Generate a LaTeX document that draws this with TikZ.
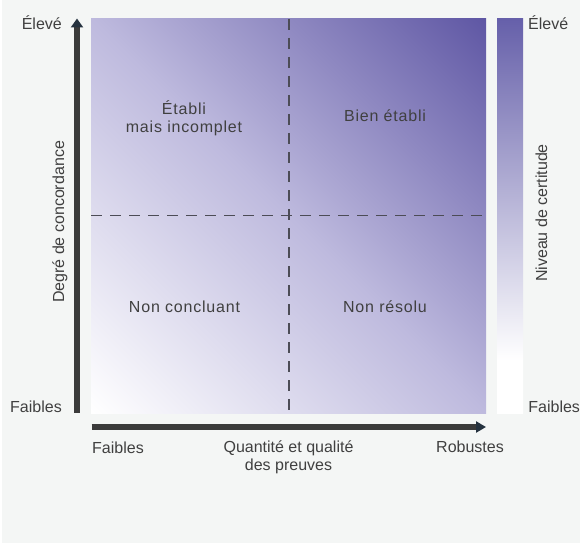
\documentclass[tikz,border=0pt]{standalone}
\usepackage{fontspec}
\setmainfont{Liberation Sans}
\newfontfamily\quadfont[LetterSpace=5]{Liberation Sans}
\usetikzlibrary{arrows.meta}
\definecolor{bg}{HTML}{F4F6F5}
\definecolor{quadDark}{HTML}{5F57A4}
\definecolor{quadMid}{HTML}{BEBADE}
\definecolor{barTop}{HTML}{6660AA}
\definecolor{axiscol}{HTML}{3B3B3B}
\definecolor{tipcol}{HTML}{25323F}
\definecolor{txt}{HTML}{404040}
\definecolor{dashcol}{HTML}{4C4C56}
\pgfdeclarehorizontalshading{quadshade}{100bp}{color(0bp)=(white); color(14.6bp)=(white); color(50bp)=(quadMid); color(85.4bp)=(quadDark); color(100bp)=(quadDark)}
\pgfdeclareverticalshading{barshade}{100bp}{color(0bp)=(white); color(31.7bp)=(white); color(75bp)=(barTop); color(100bp)=(barTop)}
\tikzset{
  lbl/.style={inner sep=0pt, text=txt, font=\fontsize{16bp}{18bp}\selectfont},
  qlbl/.style={inner sep=0pt, text=txt, align=center, font=\quadfont\fontsize{16bp}{18bp}\selectfont},
  divider/.style={draw=dashcol, line width=1.7bp, dash pattern=on 11bp off 8bp},
  axisline/.style={draw=axiscol},
}
\begin{document}
\begin{tikzpicture}[x=1bp, y=-1bp]
\useasboundingbox (0,0) rectangle (580,543);
\fill[bg] (0,0) rectangle (580,543);
\fill[white] (0,0) rectangle (1.7,543);
% main quadrant area
\shade[shading=quadshade, shading angle=45] (91,19) rectangle (486,413);
% certainty bar
\shade[shading=barshade] (497,19) rectangle (523,413);
% dividers
\coordinate (vtop) at (289,19);
\coordinate (vbot) at (289,413);
\coordinate (hleft) at (91,215.5);
\coordinate (hright) at (486,215.5);
\draw[divider] (vtop) -- (vbot);
\draw[divider] (hleft) -- (hright);
% axes
\coordinate (yaxis0) at (77,412.5);
\coordinate (yaxis1) at (77,18.5);
\coordinate (xaxis0) at (91.5,427);
\coordinate (xaxis1) at (486,427);
\draw[axisline, line width=6bp, -{Triangle[length=9bp,width=12bp,color=tipcol,fill=tipcol]}] (yaxis0) -- (yaxis1);
\draw[axisline, line width=5.5bp, -{Triangle[length=10bp,width=11bp,color=tipcol,fill=tipcol]}] (xaxis0) -- (xaxis1);
% axis labels
\node[lbl, anchor=base east] (yhigh) at (62,30) {Élevé};
\node[lbl, anchor=base east] (ylow) at (62,412) {Faibles};
\node[lbl, anchor=base west] (xlow) at (92,453) {Faibles};
\node[lbl, anchor=base, align=center] (xtitle) at (288.5,470) {Quantité et qualité\\des preuves};
\node[lbl, anchor=base east] (xhigh) at (504,452) {Robustes};
\node[lbl, rotate=90, anchor=base] (ytitle) at (64,222) {Degré de concordance};
\node[lbl, rotate=90, anchor=base] (ctitle) at (547,213) {Niveau de certitude};
\node[lbl, anchor=base west] (chigh) at (528,30) {Élevé};
\node[lbl, anchor=base west] (clow) at (528.2,412) {Faibles};
% quadrant labels
\node[qlbl, anchor=base] (q1) at (184,133) {Établi\\mais incomplet};
\node[qlbl, anchor=base] (q2) at (385,122) {Bien établi};
\node[qlbl, anchor=base] (q3) at (184.5,312) {Non concluant};
\node[qlbl, anchor=base] (q4) at (385,312) {Non résolu};
\end{tikzpicture}
\end{document}
